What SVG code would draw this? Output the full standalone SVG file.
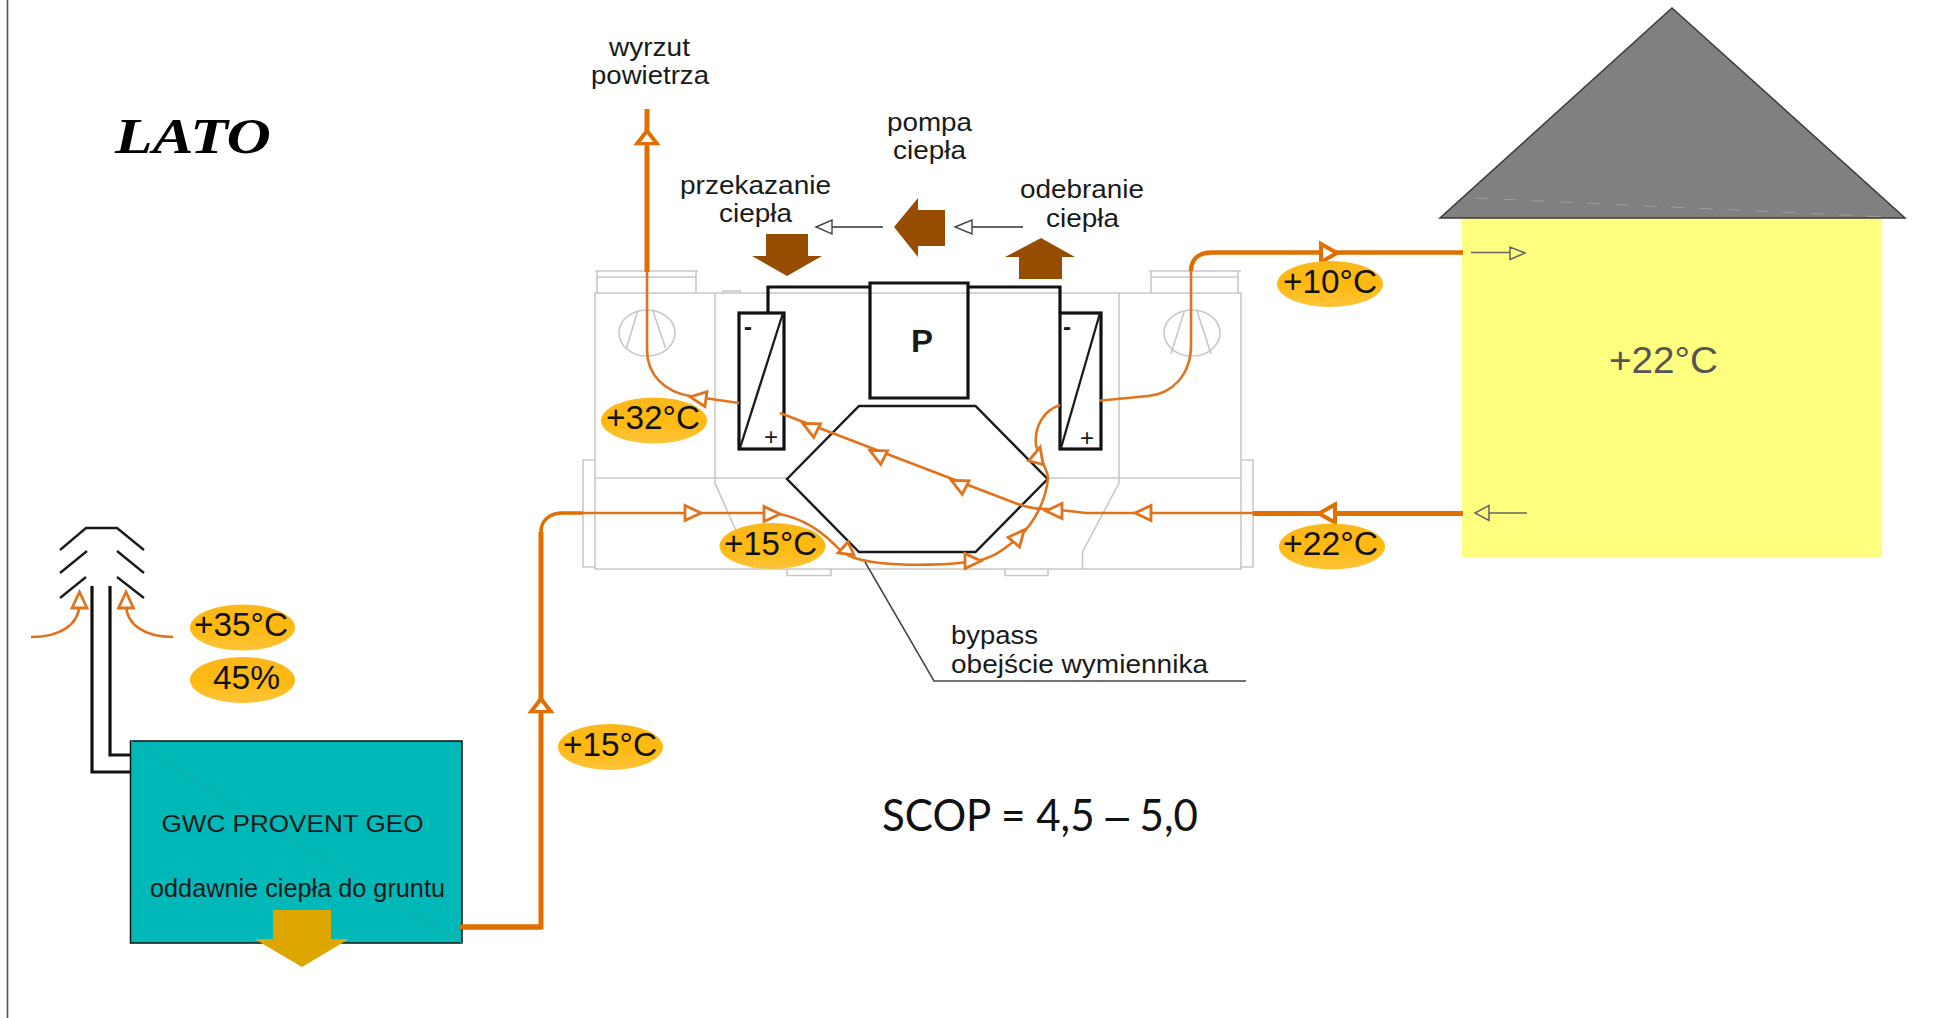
<svg xmlns="http://www.w3.org/2000/svg" width="1939" height="1018" viewBox="0 0 1939 1018">
<style>
text{font-family:"Liberation Sans",Arial,sans-serif;fill:#1a1a1a}
.lb{font-size:26.500px}
.tp{font-size:33px;fill:#111}
.case{fill:none;stroke:#c8c8c8;stroke-width:1.6}
.bk{fill:none;stroke:#111;stroke-width:3.2}
.bk2{fill:none;stroke:#1a1a1a;stroke-width:2.300}
.or{fill:none;stroke:#E0731C;stroke-width:2.600}
.ort{fill:none;stroke:#E06F00;stroke-width:5}
.ah{fill:#fff;stroke:#E0731C;stroke-width:2.800;stroke-linejoin:miter}
.aht{fill:#fff;stroke:#E06F00;stroke-width:4}
.br{fill:#974D00}
.sm{fill:none;stroke:#333;stroke-width:1.4}
.smh{fill:#fff;stroke:#444;stroke-width:1.4}
.hs{fill:none;stroke:#666;stroke-width:1.5}
.hsh{fill:#FFFF7F;stroke:#666;stroke-width:1.5}
.el{fill:url(#g)}
</style>
<defs>
<linearGradient id="g" x1="0" y1="0" x2="0" y2="1">
<stop offset="0" stop-color="#FBB81C"/><stop offset=".5" stop-color="#FFB90F"/><stop offset="1" stop-color="#FDC33A"/>
</linearGradient>
<path id="t" d="M8 0L-8 -7.500V7.500Z"/>
<path id="tt" d="M9 0L-7 -9V9Z"/>
</defs>
<rect width="1939" height="1018" fill="#fff"/>
<path d="M7.5 0V1018" stroke="#555" stroke-width="1.6" fill="none"/>
<text id="title" x="115" y="153" font-size="50" font-weight="bold" font-style="italic" textLength="156" lengthAdjust="spacingAndGlyphs" style="font-family:'Liberation Serif',serif;fill:#000">LATO</text>

<g id="house">
<rect x="1462" y="218" width="420" height="339" fill="#FFFF7F"/>
<path d="M1672 8L1905 218H1440Z" fill="#808080" stroke="#3a3a3a" stroke-width="1.5"/>
<path d="M1475 198L1887 217" stroke="#a0a0a0" stroke-width="1" stroke-dasharray="14 14" fill="none"/>
<text x="1609" y="373" font-size="37" textLength="109" lengthAdjust="spacingAndGlyphs" style="fill:#555">+22°C</text>
</g>

<g id="unit">
<path class="case" d="M595 293H1241V569H595ZM595 478H788M1048 478H1241M715 293V483L753 569M1119 293V483L1082.500 552V569"/>
<path class="case" d="M595 271H698M597 271V293M696 271V293M597 277H696M1149 271H1241M1151 271V293M1238 271V293M1151 277H1238M723 293V291H740V293"/>
<path class="case" d="M595 460H583V567H595M1241 460H1253V567H1241M787 569V575.500H831V569M1005 569V575.500H1048V569"/>
<ellipse class="case" cx="647" cy="333" rx="28" ry="23"/>
<path class="case" d="M638 310L626.500 348M652.700 310L665.500 348"/>
<ellipse class="case" cx="1192" cy="333" rx="28" ry="23"/>
<path class="case" d="M1184.400 311L1171 354M1197 311L1211 354"/>
</g>

<g id="heat-pump">
<path class="bk" d="M768 313V287H870M968 287H1060V313"/>
<g id="coil-left"><rect class="bk" x="739" y="313" width="45" height="136"/><path class="bk2" d="M740 448L783 313"/><text x="744" y="335" font-size="24" font-weight="bold">-</text><text x="764" y="445" font-size="24">+</text></g>
<g id="coil-right"><rect class="bk" x="1060" y="313" width="41" height="136"/><path class="bk2" d="M1061 448L1100 313"/><text x="1063" y="335" font-size="24" font-weight="bold">-</text><text x="1080" y="446" font-size="24">+</text></g>
<g id="compressor"><path class="bk" d="M870 287V283H968V287M870 283V398H968V283"/><text x="911" y="352" font-size="32" font-weight="bold" textLength="22" lengthAdjust="spacingAndGlyphs">P</text></g>
</g>
<g id="exchanger"><path d="M787 479L859 406H975.500L1047.600 479L975.500 552H859Z" fill="#fff" stroke="#1a1a1a" stroke-width="2.400"/></g>

<g id="connectors">
<path class="ort" d="M647 272V109"/>
<path class="or" d="M647 272V350C647 375 665 392 690 396L739 403"/>
<path class="or" d="M780 413L1015 503C1030 509 1040 509 1060 510L1086 513H1253"/>
<path class="ort" d="M1253 513.500H1463"/>
<path class="ort" d="M1463 252.600H1212C1198 252.600 1191 260 1191 271" style="stroke-width:4.500"/>
<path class="or" d="M1191 271V345C1191 375 1172 394 1148 396L1099 400.700"/>
<path class="ort" d="M460 927H541V532"/>
<path class="ort" d="M541 532C541 520 550 513 563 513H583" style="stroke-width:3.500"/>
<path class="or" d="M583 513H770C800 515 820 530 835 545C845 556 855 560 880 563C910 566 950 565 975 561C995 558 1005 548 1019 537C1035 522 1046 500 1048 478C1048 470 1040 460 1036 445C1034 425 1045 410 1060 405"/>
<path class="or" d="M31 637C60 637 79 625 79.500 604M173 637C145 637 126 625 126 604"/>
<path d="M865 562L934 681H1246" fill="none" stroke="#444" stroke-width="1.500"/>
<use href="#tt" class="aht" transform="translate(647,138) rotate(-90) scale(.8,1.1)"/>
<use href="#tt" class="aht" transform="translate(541,706) rotate(-90) scale(.8,1.1)"/>
<use href="#tt" class="aht" transform="translate(1328,253)"/>
<use href="#tt" class="aht" transform="translate(1328,513.500) rotate(180)"/>
<use href="#t" class="ah" transform="translate(698,398) rotate(188)"/>
<use href="#t" class="ah" transform="translate(810,427) rotate(207)"/>
<use href="#t" class="ah" transform="translate(877,454) rotate(207)"/>
<use href="#t" class="ah" transform="translate(958.500,484) rotate(207)"/>
<use href="#t" class="ah" transform="translate(1054,511) rotate(180)"/>
<use href="#t" class="ah" transform="translate(1143,513) rotate(180)"/>
<use href="#t" class="ah" transform="translate(693,513)"/>
<use href="#t" class="ah" transform="translate(772,514)"/>
<use href="#t" class="ah" transform="translate(973,561)"/>
<use href="#t" class="ah" transform="translate(1019,536) rotate(-50)"/>
<use href="#t" class="ah" transform="translate(1038,455) rotate(-75)"/>
<path class="ah" d="M848 542L838 553L854 555Z"/>
<use href="#t" class="ah" transform="translate(79.500,600) rotate(-90)"/>
<use href="#t" class="ah" transform="translate(126,600) rotate(-90)"/>
<path class="sm" d="M883 227H830M1023 227H969"/>
<path class="smh" d="M816 227L832 220V234ZM955 227L972 220V234Z"/>
<path class="hs" d="M1471 252.600H1510M1489 513H1527"/>
<path class="hsh" d="M1525 253L1510 247V259.500ZM1475 513L1489 505.500V520.500Z"/>
</g>

<g id="heat-arrows">
<path class="br" d="M766 234H808V256H822L787 276L752 256H766Z"/>
<path class="br" d="M894 227L918 198V210H945V246H918V257Z"/>
<path class="br" d="M1041 238L1075 257H1062V279H1019V257H1005Z"/>
</g>

<g id="chimney">
<path class="bk2" d="M60 550L86 528H117L144 550M60 573L87 551M117 551L144 573M60 598L86 577M117 577L144 598"/>
<path class="bk" d="M92 586V772H130M110 586V755H130"/>
</g>

<g id="gwc">
<rect x="130.500" y="741" width="331.500" height="202" fill="#00B8B8" stroke="#111" stroke-width="1.500"/>
<path d="M131 741L462 943" stroke="#22ada8" stroke-width="1" fill="none"/>
<text x="161.500" y="832" font-size="24.500" textLength="262" lengthAdjust="spacingAndGlyphs">GWC PROVENT GEO</text>
<text x="150" y="897" font-size="25" textLength="295" lengthAdjust="spacingAndGlyphs">oddawnie ciepła do gruntu</text>
<path d="M273 910H331V939H349L302 967L254.500 939H273Z" fill="#DDA700"/>
</g>
<path class="ort" d="M460 927H541"/>

<g id="labels">
<text class="lb" x="591" y="84" textLength="118" lengthAdjust="spacingAndGlyphs">powietrza</text>
<text class="lb" x="609" y="56" textLength="81" lengthAdjust="spacingAndGlyphs">wyrzut</text>
<text class="lb" x="887" y="131" textLength="85" lengthAdjust="spacingAndGlyphs">pompa</text>
<text class="lb" x="893" y="159" textLength="73" lengthAdjust="spacingAndGlyphs">ciepła</text>
<text class="lb" x="680" y="194" textLength="151" lengthAdjust="spacingAndGlyphs">przekazanie</text>
<text class="lb" x="719" y="222" textLength="73" lengthAdjust="spacingAndGlyphs">ciepła</text>
<text class="lb" x="1020" y="198" textLength="124" lengthAdjust="spacingAndGlyphs">odebranie</text>
<text class="lb" x="1046" y="226.500" textLength="73" lengthAdjust="spacingAndGlyphs">ciepła</text>
<text class="lb" x="951" y="644" textLength="87" lengthAdjust="spacingAndGlyphs">bypass</text>
<text class="lb" x="951" y="673" textLength="257" lengthAdjust="spacingAndGlyphs">obejście wymiennika</text>
<text x="882" y="831" font-size="45" textLength="316" lengthAdjust="spacingAndGlyphs" style="font-family:Lato,sans-serif;fill:#111">SCOP = 4,5 <tspan style="font-family:'Liberation Sans',sans-serif;fill:#111">–</tspan> 5,0</text>
</g>

<g id="temp-35"><ellipse class="el" cx="242.500" cy="627.500" rx="52.500" ry="23"/><text class="tp" x="194" y="636" textLength="94" lengthAdjust="spacingAndGlyphs">+35°C</text></g>
<g id="hum-45"><ellipse class="el" cx="242.500" cy="680" rx="52.500" ry="23"/><text class="tp" x="213" y="689" textLength="67" lengthAdjust="spacingAndGlyphs">45%</text></g>
<g id="temp-15-a"><ellipse class="el" cx="610.500" cy="747" rx="52.500" ry="23"/><text class="tp" x="563" y="756" textLength="94" lengthAdjust="spacingAndGlyphs">+15°C</text></g>
<g id="temp-32"><ellipse class="el" cx="654" cy="420.500" rx="53" ry="23"/><text class="tp" x="606" y="429" textLength="94" lengthAdjust="spacingAndGlyphs">+32°C</text></g>
<g id="temp-15-b"><ellipse class="el" cx="772.500" cy="546" rx="53" ry="23"/><text class="tp" x="724" y="555" textLength="93" lengthAdjust="spacingAndGlyphs">+15°C</text></g>
<g id="temp-10"><ellipse class="el" cx="1330" cy="284" rx="53" ry="23"/><text class="tp" x="1283" y="293" textLength="94" lengthAdjust="spacingAndGlyphs">+10°C</text></g>
<g id="temp-22"><ellipse class="el" cx="1332" cy="546.500" rx="53" ry="23"/><text class="tp" x="1283" y="555" textLength="95" lengthAdjust="spacingAndGlyphs">+22°C</text></g>
</svg>
